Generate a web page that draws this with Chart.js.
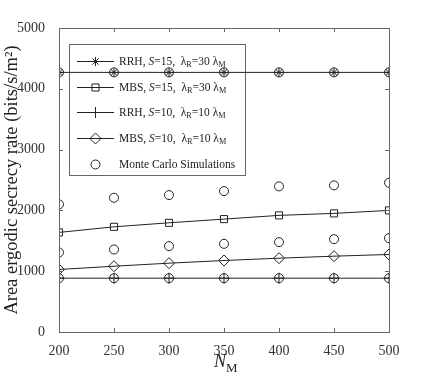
<!DOCTYPE html>
<html>
<head>
<meta charset="utf-8">
<script src="https://cdn.jsdelivr.net/npm/chart.js@4.4.0/dist/chart.umd.min.js"></script>
<style>
  html, body { margin: 0; padding: 0; background: #fff; }
  #wrap { width: 430px; height: 375px; }
</style>
</head>
<body>
<div id="wrap"><canvas id="chart" width="430" height="375"></canvas></div>
<script>
// 数据 - 从图中读取
const nM = [200, 250, 300, 350, 400, 450, 500];
const rrhS15 = [4270, 4270, 4270, 4270, 4270, 4270, 4270];
const mbsS15 = [1638, 1730, 1796, 1857, 1918, 1951, 2000];
const rrhS10 = [885, 885, 885, 885, 885, 885, 885];
const mbsS10 = [1028, 1082, 1132, 1176, 1214, 1247, 1275];
const mcRrhS15 = [4270, 4270, 4270, 4270, 4270, 4270, 4270];
const mcMbsS15 = [2099, 2208, 2252, 2318, 2395, 2412, 2455];
const mcMbsS10 = [1308, 1357, 1412, 1450, 1478, 1527, 1544];
const mcRrhS10 = [885, 885, 885, 885, 885, 885, 885];
const xTicks = [200, 250, 300, 350, 400, 450, 500];
const yTicks = [0, 1000, 2000, 3000, 4000, 5000];

const SERIF = '"Liberation Serif", "DejaVu Serif", serif';
const LINE = '#222';
const AXIS = '#666';
const NOFILL = 'rgba(0,0,0,0)';

function pts(arr) {
    return nM.map((x, i) => ({ x: x, y: arr[i] }));
}

function lineSet(label, arr, style, r) {
    return {
        label: label, data: pts(arr), borderColor: LINE, borderWidth: 1,
        pointStyle: style, pointRadius: r, pointBorderColor: LINE,
        pointBackgroundColor: NOFILL, pointBorderWidth: 1, showLine: true
    };
}

function mcSet(arr) {
    return {
        label: 'Monte Carlo Simulations', data: pts(arr), showLine: false,
        pointStyle: 'circle', pointRadius: 4.5, pointBorderColor: LINE,
        pointBackgroundColor: NOFILL, pointBorderWidth: 1
    };
}

// 图例条目
const legendItems = [
    { style: 'star', r: 4.5, parts: [['RRH, ', ''], ['S', 'i'], ['=15,  λ', ''], ['R', 's'], ['=30 λ', ''], ['M', 's']] },
    { style: 'rect', r: 5, parts: [['MBS, ', ''], ['S', 'i'], ['=15,  λ', ''], ['R', 's'], ['=30 λ', ''], ['M', 's']] },
    { style: 'cross', r: 5.5, parts: [['RRH, ', ''], ['S', 'i'], ['=10,  λ', ''], ['R', 's'], ['=10 λ', ''], ['M', 's']] },
    { style: 'rectRot', r: 5.5, parts: [['MBS, ', ''], ['S', 'i'], ['=10,  λ', ''], ['R', 's'], ['=10 λ', ''], ['M', 's']] },
    { style: 'circle', r: 4.5, noLine: true, parts: [['Monte Carlo Simulations', '']] }
];

function drawRich(ctx, parts, x, y, size) {
    parts.forEach(p => {
        const kind = p[1];
        let fs = size, dy = 0, it = '';
        if (kind === 's') { fs = size * 0.72; dy = size * 0.25; }
        if (kind === 'i') { it = 'italic '; }
        ctx.font = it + fs + 'px ' + SERIF;
        ctx.fillText(p[0], x, y + dy);
        x += ctx.measureText(p[0]).width;
    });
}

const framePlugin = {
    id: 'frame',
    // 图例画在数据下面
    beforeDatasetsDraw(chart) {
        const ctx = chart.ctx;
        ctx.save();
        const bx = 69, by = 44, bw = 176, bh = 131;
        ctx.lineWidth = 1;
        ctx.strokeStyle = AXIS;
        ctx.strokeRect(bx + 0.5, by + 0.5, bw, bh);
        ctx.strokeStyle = LINE;
        ctx.textBaseline = 'middle';
        ctx.textAlign = 'left';
        const rows = [61, 87, 112, 138, 164];
        legendItems.forEach((it, i) => {
            const y = rows[i] + 0.5;
            if (!it.noLine) {
                ctx.beginPath();
                ctx.moveTo(77, y); ctx.lineTo(114, y);
                ctx.stroke();
            }
            ctx.fillStyle = NOFILL;
            Chart.helpers.drawPoint(ctx, {
                pointStyle: it.style, radius: it.r, borderWidth: 1, rotation: 0
            }, 95.5, y);
            ctx.fillStyle = '#222';
            drawRich(ctx, it.parts, 119, y, 11.5);
        });
        ctx.restore();
    },
    afterDraw(chart) {
        const ctx = chart.ctx;
        const a = chart.chartArea;
        const xs = chart.scales.x, ys = chart.scales.y;
        ctx.save();
        ctx.strokeStyle = AXIS;
        ctx.lineWidth = 1;
        ctx.strokeRect(a.left + 0.5, a.top + 0.5, a.right - a.left, a.bottom - a.top);
        ctx.beginPath();
        const tl = 4;
        xTicks.forEach(v => {
            const px = Math.round(xs.getPixelForValue(v)) + 0.5;
            ctx.moveTo(px, a.bottom); ctx.lineTo(px, a.bottom - tl);
            ctx.moveTo(px, a.top); ctx.lineTo(px, a.top + tl);
        });
        yTicks.forEach(v => {
            const py = Math.round(ys.getPixelForValue(v)) + 0.5;
            ctx.moveTo(a.left, py); ctx.lineTo(a.left + tl, py);
            ctx.moveTo(a.right, py); ctx.lineTo(a.right - tl, py);
        });
        ctx.stroke();

        // x 轴标题 N_M
        ctx.fillStyle = '#222';
        ctx.textBaseline = 'alphabetic';
        ctx.textAlign = 'left';
        drawRich(ctx, [['N', 'i'], ['M', 's']], 214, 367, 18);
        ctx.restore();
    }
};

new Chart(document.getElementById('chart'), {
    type: 'scatter',
    data: {
        datasets: [
            lineSet('RRH, S=15', rrhS15, 'star', 4.5),
            lineSet('MBS, S=15', mbsS15, 'rect', 5),
            lineSet('RRH, S=10', rrhS10, 'cross', 5.5),
            lineSet('MBS, S=10', mbsS10, 'rectRot', 5.5),
            mcSet(mcRrhS15), mcSet(mcMbsS15), mcSet(mcMbsS10), mcSet(mcRrhS10)
        ]
    },
    options: {
        responsive: false,
        animation: false,
        layout: { padding: { top: 28, right: 41, left: 0, bottom: 0 } },
        plugins: { legend: { display: false }, tooltip: { enabled: false } },
        scales: {
            x: {
                type: 'linear', min: 200, max: 500,
                grid: { display: false }, border: { display: false },
                afterBuildTicks: s => { s.ticks = xTicks.map(v => ({ value: v })); },
                afterFit: s => { s.height = 43; },
                ticks: { color: '#333', padding: 3, font: { family: SERIF, size: 14 },
                    callback: v => String(v) }
            },
            y: {
                min: 0, max: 5000,
                grid: { display: false }, border: { display: false },
                afterBuildTicks: s => { s.ticks = yTicks.map(v => ({ value: v })); },
                afterFit: s => { s.width = 59; },
                ticks: { color: '#333', padding: 6, font: { family: SERIF, size: 14 },
                    callback: v => String(v) },
                title: {
                    display: true, text: 'Area ergodic secrecy rate (bits/s/m²)',
                    color: '#222', font: { family: SERIF, size: 18.5 }, padding: { top: 1, bottom: 0 }
                }
            }
        }
    },
    plugins: [framePlugin]
});
</script>
</body>
</html>
